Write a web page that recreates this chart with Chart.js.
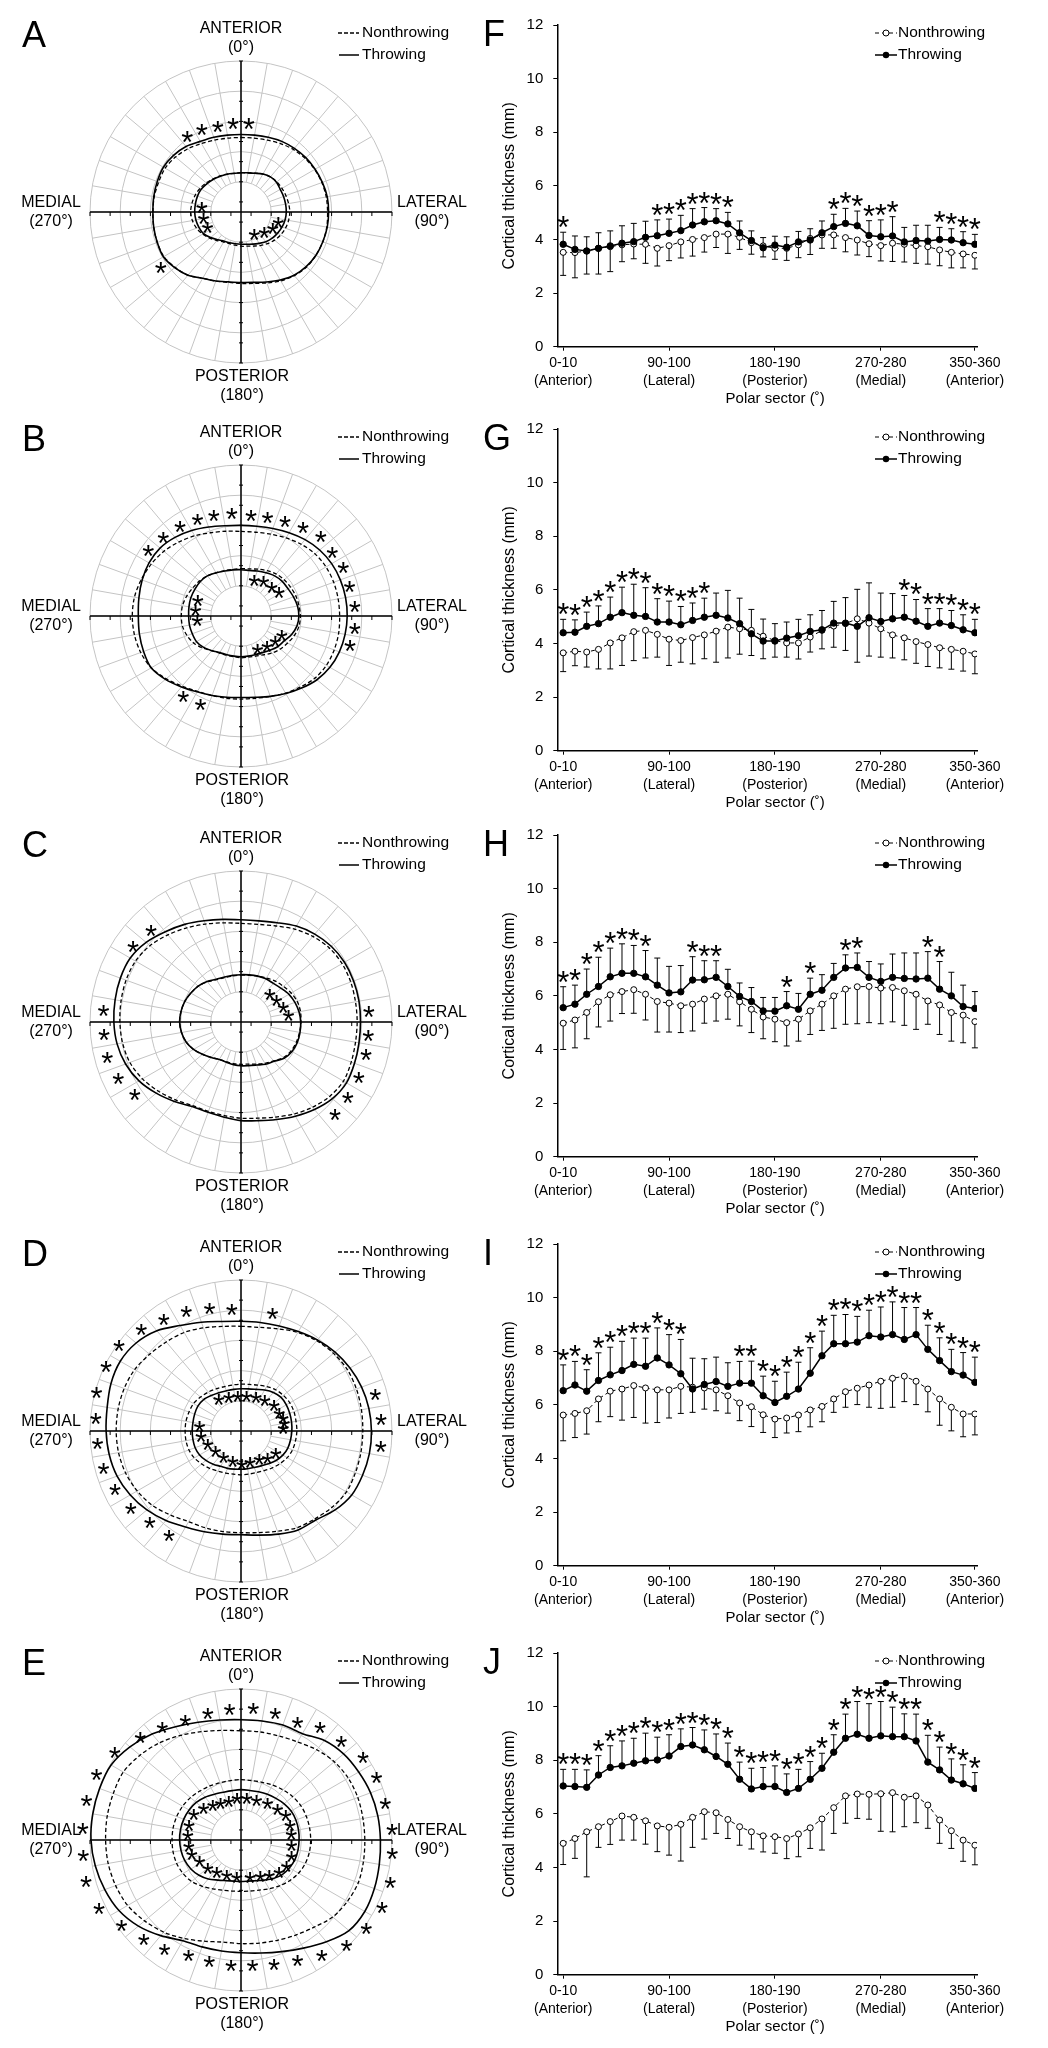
<!DOCTYPE html>
<html>
<head>
<meta charset="utf-8">
<script src="https://cdn.jsdelivr.net/npm/chart.js@4.4.1/dist/chart.umd.min.js"></script>
<style>
  html, body { margin: 0; padding: 0; background: #fff; }
  body { position: relative; width: 1048px; height: 2048px; overflow: hidden; }
  canvas { position: absolute; }
</style>
</head>
<body>
<script>
const FONT = '"Liberation Sans", Arial, sans-serif';
Chart.defaults.font.family = FONT;
Chart.defaults.color = '#000';

// 10-degree polar sectors, clockwise from anterior
const sectorLabels = ['0-10','10-20','20-30','30-40','40-50','50-60','60-70','70-80','80-90',
  '90-100','100-110','110-120','120-130','130-140','140-150','150-160','160-170','170-180',
  '180-190','190-200','200-210','210-220','220-230','230-240','240-250','250-260','260-270',
  '270-280','280-290','290-300','300-310','310-320','320-330','330-340','340-350','350-360'];
const tickIdx = [0, 9, 18, 27, 35];
const tickRegion = ['(Anterior)', '(Lateral)', '(Posterior)', '(Medial)', '(Anterior)'];

// ---- polar contours: radius (mm) at 0,10,...,350 deg ----
const aThrOut = [7.7,7.75,7.9,8.1,8.25,8.4,8.5,8.6,8.7,8.7,8.7,8.65,8.6,8.45,8.2,7.8,7.4,7.1,7.0,7.05,7.3,7.6,8.2,8.6,8.9,8.85,8.8,8.75,8.8,8.85,8.9,8.75,8.5,8.1,7.9,7.75];
const aNonOut = [7.4,7.45,7.6,7.85,8.1,8.3,8.45,8.55,8.6,8.6,8.65,8.65,8.6,8.5,8.25,7.9,7.5,7.2,7.1,7.1,7.3,7.6,8.2,8.55,8.85,8.85,8.8,8.75,8.75,8.7,8.7,8.5,8.2,7.85,7.6,7.45];
const aThrIn = [3.9,3.95,4.1,4.35,4.55,4.6,4.5,4.5,4.5,4.5,4.45,4.35,4.2,4.05,3.85,3.6,3.4,3.25,3.2,3.2,3.25,3.35,3.6,3.95,4.3,4.45,4.55,4.6,4.6,4.6,4.55,4.4,4.25,4.1,4.0,3.9];
const aNonIn = [3.9,3.95,4.1,4.35,4.55,4.65,4.7,4.75,4.8,4.85,4.8,4.7,4.55,4.35,4.1,3.85,3.6,3.45,3.4,3.35,3.35,3.45,3.7,4.05,4.4,4.7,4.9,5.0,4.95,4.85,4.7,4.5,4.3,4.15,4.0,3.9];

const bThrOut = [9.0,9.05,9.25,9.55,9.9,10.2,10.4,10.5,10.55,10.55,10.5,10.4,10.2,9.85,9.35,8.9,8.5,8.2,8.1,8.2,8.4,8.7,9.2,9.8,10.3,10.3,10.25,10.2,10.3,10.45,10.55,10.5,10.2,9.8,9.4,9.1];
const bNonOut = [8.4,8.45,8.65,8.95,9.3,9.6,9.75,9.8,9.8,9.8,9.85,9.85,9.8,9.6,9.2,8.85,8.5,8.3,8.25,8.3,8.4,8.65,9.1,9.7,10.3,10.6,10.75,10.8,10.75,10.55,10.3,10.0,9.6,9.2,8.8,8.55];
const bThrIn = [4.6,4.6,4.75,4.95,5.2,5.35,5.4,5.55,5.7,5.75,5.65,5.35,4.95,4.75,4.45,4.2,4.1,4.05,4.05,4.05,4.1,4.2,4.5,4.85,5.1,5.15,5.2,5.2,5.25,5.3,5.3,5.3,5.2,4.95,4.75,4.65];
const bNonIn = [4.7,4.75,4.95,5.2,5.45,5.6,5.7,5.8,5.85,5.9,5.85,5.65,5.35,5.1,4.8,4.45,4.25,4.15,4.15,4.1,4.15,4.25,4.5,4.95,5.4,5.7,5.9,5.93,5.9,5.75,5.55,5.4,5.2,4.95,4.8,4.7];

const cThrOut = [10.15,10.2,10.5,11.0,11.4,11.7,11.87,11.9,11.9,11.87,11.9,12.0,12.1,11.85,11.35,10.8,10.3,9.95,9.8,9.6,9.55,9.7,10.3,11.0,11.7,12.2,12.5,12.63,12.7,12.75,12.7,12.3,11.7,11.2,10.7,10.35];
const cNonOut = [9.8,9.85,10.15,10.65,11.1,11.45,11.6,11.6,11.55,11.54,11.55,11.65,11.75,11.5,11.05,10.55,10.05,9.7,9.56,9.45,9.45,9.6,10.1,10.7,11.3,11.75,11.95,12.03,12.1,12.15,12.1,11.8,11.3,10.8,10.35,10.0];
const cThrIn = [4.7,4.75,4.85,4.95,5.0,5.2,5.5,5.7,5.85,5.93,5.95,5.95,5.85,5.6,5.1,4.85,4.55,4.4,4.35,4.3,4.25,4.3,4.6,5.0,5.45,5.8,6.0,6.1,6.05,5.95,5.75,5.55,5.25,4.9,4.75,4.7];
const cNonIn = [4.65,4.7,4.85,5.05,5.3,5.5,5.75,5.95,6.0,5.95,5.9,5.85,5.75,5.5,5.05,4.75,4.45,4.25,4.2,4.2,4.2,4.3,4.6,5.0,5.45,5.8,6.0,6.1,6.05,5.95,5.75,5.55,5.2,4.85,4.7,4.65];

const dThrOut = [10.9,10.95,11.1,11.4,11.8,12.2,12.5,12.75,12.9,12.96,12.95,12.85,12.7,12.2,11.55,11.35,10.9,10.5,10.3,10.4,10.65,11.0,11.6,12.2,12.7,13.1,13.3,13.4,13.5,13.75,13.85,13.6,13.0,12.1,11.5,11.05];
const dNonOut = [10.4,10.45,10.8,11.3,11.7,12.0,12.2,12.2,12.15,12.1,12.1,12.1,12.1,11.8,11.4,11.1,10.6,10.25,10.1,10.15,10.25,10.4,10.9,11.5,11.9,12.2,12.35,12.4,12.4,12.35,12.2,11.85,11.55,11.3,10.9,10.55];
const dThrIn = [4.2,4.25,4.4,4.7,5.0,5.2,5.2,5.15,5.1,5.05,5.0,4.95,4.8,4.55,4.25,4.0,3.85,3.8,3.8,3.85,3.95,4.05,4.3,4.55,4.75,4.85,4.85,4.85,4.85,4.9,4.95,4.85,4.6,4.4,4.25,4.2];
const dNonIn = [4.65,4.7,4.85,5.1,5.35,5.5,5.6,5.6,5.55,5.55,5.5,5.45,5.3,5.05,4.8,4.55,4.4,4.35,4.35,4.35,4.45,4.6,4.85,5.1,5.35,5.5,5.55,5.55,5.55,5.5,5.45,5.25,5.05,4.85,4.7,4.65];

const eThrOut = [11.95,12.0,12.15,12.2,12.9,13.3,13.5,13.7,13.8,13.85,13.95,14.1,14.2,14.0,13.2,12.4,11.8,11.4,11.2,11.2,11.3,11.55,12.4,13.3,14.0,14.4,14.7,14.9,14.95,14.95,14.9,14.4,13.75,13.0,12.45,12.1];
const eNonOut = [10.85,10.9,11.0,11.25,11.7,12.1,12.3,12.35,12.3,12.3,12.35,12.4,12.2,11.9,11.3,10.9,10.6,10.4,10.3,10.3,10.7,11.3,11.95,12.5,13.0,13.25,13.4,13.45,13.5,13.5,13.5,13.1,12.6,12.0,11.45,11.05];
const eThrIn = [5.0,5.0,5.1,5.25,5.4,5.6,5.75,5.8,5.8,5.77,5.75,5.7,5.55,5.35,5.0,4.6,4.3,4.15,4.12,4.15,4.3,4.6,5.05,5.45,5.75,5.95,6.05,6.1,6.1,6.05,5.95,5.8,5.55,5.25,5.05,4.98];
const eNonIn = [6.0,6.0,6.1,6.3,6.5,6.7,6.85,6.9,6.92,6.92,6.9,6.8,6.6,6.3,5.95,5.6,5.3,5.15,5.1,5.15,5.3,5.6,6.0,6.4,6.65,6.8,6.85,6.85,6.85,6.8,6.7,6.55,6.35,6.2,6.05,6.0];

// significance asterisks on the polar plots: [angle deg, radius mm]
const aStars = [[325,9.3],[335,9.2],[345,8.9],[355,9.0],[5,9.0],[236,9.6],[278,3.93],[262,3.77],[247,3.6],[147.6,2.46],[129.6,3.0],[115.8,3.5],[103,3.8]];
const bStars = [[306,11.4],[316,11.1],[326,10.85],[336,10.6],[345,10.45],[355,10.4],[5.6,10.15],[14.8,10.3],[24.6,10.5],[34.5,10.9],[44.5,11.3],[54.4,11.15],[64,11.3],[74.3,11.2],[84.7,11.35],[95.3,11.35],[104.5,11.2],[216.3,9.7],[205,9.5],
  [19.7,3.9],[32.4,4.2],[45.3,4.3],[57.2,4.5],[152.5,3.57],[138.4,3.88],[125.3,4.17],[114.1,4.44],[291,4.6],[279,4.57],[265.7,4.36]];
const cStars = [[316,12.85],[305.6,13.2],[275.2,13.7],[265.6,13.65],[255.8,13.7],[246,13.35],[236.1,12.7],[84.8,12.75],[95.2,12.7],[104,12.8],[114.5,12.86],[124.6,12.9],[134.1,13.0],
  [44.7,4.08],[57.6,4.18],[69.3,4.48],[80.9,4.78]];
const dStars = [[285.5,14.9],[275.6,14.5],[265.5,14.3],[255.5,14.1],[245.6,13.75],[235.5,13.3],[225.3,12.75],[215.1,12.45],[295.9,14.9],[305.6,14.9],[316,14.25],[325.7,13.6],[335.7,13.2],[345.8,12.75],[355.7,12.26],[14.8,12.27],[74.4,13.86],[84.9,13.97],[95.7,13.95],
  [325.6,3.92],[340.8,3.7],[354.7,3.58],[8.9,3.6],[23.2,3.77],[36.3,4.0],[51.3,4.22],[63.2,4.25],[72.1,4.4],[77.8,4.39],[84.2,4.21],[278.2,4.16],[264.3,3.98],[250.7,3.49],[233.5,3.16],[215.6,3.0],[196,2.98],[178.8,3.2],[163.1,3.07],[146.2,3.25],[133.9,3.66],[120.6,4.02]];
const eStars = [[355,13.17],[5.3,13.24],[15,13.14],[25.3,13.12],[34.8,13.74],[45,14.08],[55.5,14.72],[64.8,14.87],[75.2,14.83],[85.4,15.05],[94.6,15.07],[105.3,15.38],[115.2,15.49],[124.9,15.16],[134.5,14.71],[144.8,13.91],[154.7,13.13],[164.9,12.64],[174.7,12.42],[184.6,12.34],[194.7,12.37],[204.6,12.51],[215.3,13.13],[224.8,13.71],[234.9,14.5],[244.6,15.62],[255.6,15.9],[264.8,15.73],[274.8,15.78],[285,15.88],[295,15.83],[305.1,15.31],[315.8,14.34],[325.4,13.75],[335.3,13.25],[345.4,13.12],
  [299.4,5.37],[311.5,4.97],[322.3,4.58],[331.7,4.3],[343.1,4.2],[354.7,4.3],[7.5,4.32],[20.6,4.4],[35.3,4.57],[48.3,4.85],[60,5.14],[72,5.13],[82.5,5.05],[94.5,5.03],[106.5,5.23],[118.7,5.15],[128.7,4.85],[140.5,4.4],[151.5,4.01],[166.2,3.73],[186.9,3.59],[202.7,3.68],[218.1,3.9],[231.3,4.22],[244.4,4.57],[255.6,5.04],[264.5,5.2],[276.4,5.31],[287,5.41]];

// ---- cortical thickness by sector (mm): means and SD ----
const fThr = [3.82,3.63,3.57,3.67,3.76,3.86,3.92,4.08,4.14,4.23,4.33,4.54,4.66,4.70,4.58,4.25,3.96,3.69,3.79,3.71,3.91,3.98,4.25,4.48,4.60,4.51,4.15,4.10,4.13,3.91,3.96,3.94,4.00,3.98,3.88,3.82];
const fThrSd = [0.45,0.50,0.53,0.58,0.56,0.65,0.68,0.60,0.59,0.53,0.57,0.61,0.53,0.45,0.43,0.44,0.36,0.38,0.33,0.39,0.39,0.42,0.44,0.46,0.56,0.55,0.55,0.63,0.72,0.54,0.57,0.59,0.45,0.42,0.41,0.37];
const fNon = [3.52,3.51,3.57,3.67,3.73,3.80,3.83,3.82,3.67,3.77,3.91,4.00,4.07,4.20,4.20,4.08,3.88,3.76,3.67,3.67,3.80,4.04,4.17,4.17,4.07,3.98,3.84,3.77,3.86,3.82,3.77,3.73,3.61,3.52,3.46,3.41];
const fNonSd = [0.86,0.94,0.86,0.96,0.93,0.63,0.55,0.71,0.66,0.56,0.60,0.62,0.54,0.50,0.72,0.45,0.43,0.41,0.41,0.45,0.48,0.60,0.50,0.50,0.53,0.56,0.48,0.57,0.68,0.66,0.66,0.65,0.59,0.58,0.52,0.51];
const fStars = [0,8,9,10,11,12,13,14,23,24,25,26,27,28,32,33,34,35];

const gThr = [4.40,4.42,4.64,4.74,4.98,5.15,5.05,5.01,4.80,4.80,4.70,4.86,4.98,5.05,4.95,4.74,4.36,4.09,4.09,4.20,4.29,4.45,4.51,4.76,4.76,4.64,4.96,4.82,4.92,4.98,4.83,4.64,4.76,4.67,4.51,4.40];
const gThrSd = [0.50,0.46,0.53,0.66,0.75,0.95,1.16,1.07,0.87,0.78,0.68,0.65,0.71,0.83,1.03,0.95,0.91,0.82,0.65,0.60,0.61,0.62,0.72,0.81,0.95,1.38,1.30,1.06,0.94,0.81,0.81,0.66,0.54,0.56,0.56,0.50];
const gNon = [3.65,3.71,3.68,3.78,4.02,4.21,4.44,4.49,4.34,4.16,4.11,4.22,4.32,4.46,4.61,4.55,4.49,4.27,4.11,4.02,4.02,4.24,4.49,4.65,4.74,4.92,4.76,4.55,4.32,4.21,4.07,3.96,3.84,3.78,3.71,3.61];
const gNonSd = [0.70,0.54,0.56,0.73,0.97,1.03,1.08,1.03,0.85,0.98,0.81,0.98,0.89,1.16,1.15,0.95,0.94,0.84,0.62,0.53,0.60,0.56,0.69,0.79,1.00,1.62,1.23,1.06,0.86,0.82,0.81,0.82,0.75,0.74,0.74,0.74];
const gStars = [0,1,2,3,4,5,6,7,8,9,10,11,12,29,30,31,32,33,34,35];

const hThr = [5.56,5.69,6.06,6.35,6.71,6.84,6.84,6.71,6.40,6.11,6.15,6.59,6.60,6.69,6.35,5.98,5.79,5.44,5.43,5.63,5.50,6.06,6.21,6.69,7.04,7.06,6.69,6.54,6.69,6.65,6.63,6.66,6.25,6.00,5.60,5.53];
const hThrSd = [0.78,0.71,0.94,1.09,1.07,1.10,1.04,0.98,1.01,0.99,0.98,0.87,0.71,0.62,0.64,0.50,0.52,0.50,0.51,0.53,0.59,0.60,0.58,0.52,0.49,0.54,0.59,0.65,0.87,0.95,0.97,0.99,1.03,0.88,0.80,0.63];
const hNon = [4.98,5.10,5.38,5.78,6.04,6.16,6.23,6.06,5.79,5.73,5.63,5.69,5.88,6.00,6.06,5.78,5.50,5.21,5.13,5.00,5.13,5.44,5.69,6.00,6.25,6.34,6.35,6.29,6.31,6.19,6.06,5.81,5.66,5.38,5.28,5.04];
const hNonSd = [0.98,1.04,0.98,0.94,0.98,0.82,0.88,0.96,1.14,1.08,1.00,1.00,0.90,0.94,0.93,0.90,0.87,0.81,0.84,0.87,0.82,0.88,0.98,1.21,1.31,1.38,1.35,1.33,1.28,1.29,1.31,0.87,1.10,1.07,1.03,0.98];
const hStars = [0,1,2,3,4,5,6,7,11,12,13,19,21,24,25,31,32];

const iThr = [6.53,6.74,6.51,6.91,7.12,7.28,7.51,7.44,7.75,7.49,7.16,6.59,6.76,6.87,6.69,6.81,6.81,6.34,6.09,6.32,6.59,7.18,7.83,8.28,8.28,8.34,8.58,8.53,8.62,8.44,8.62,8.07,7.65,7.24,7.11,6.84];
const iThrSd = [0.96,0.88,0.80,1.03,1.03,1.09,0.98,1.05,1.12,1.13,1.28,1.15,0.96,0.91,0.88,0.81,0.82,0.73,0.79,0.90,1.00,0.95,0.92,1.06,1.09,0.96,0.95,1.12,1.22,1.19,1.01,0.90,0.85,0.83,0.84,0.94];
const iNon = [5.62,5.68,5.78,6.22,6.51,6.59,6.72,6.63,6.56,6.56,6.69,6.66,6.63,6.56,6.34,6.07,5.93,5.63,5.47,5.51,5.62,5.81,5.94,6.22,6.49,6.62,6.74,6.88,6.99,7.07,6.88,6.59,6.22,5.91,5.66,5.66];
const iNonSd = [0.96,0.90,0.87,0.85,0.95,1.16,1.19,1.31,1.22,1.05,1.01,0.94,0.79,0.78,0.65,0.66,0.74,0.66,0.69,0.56,0.62,0.63,0.57,0.50,0.58,0.61,0.83,1.01,1.08,0.95,0.87,0.85,0.98,0.88,0.85,0.78];
const iStars = [0,1,2,3,4,5,6,7,8,9,10,15,16,17,18,19,20,21,22,23,24,25,26,27,28,29,30,31,32,33,34,35];

const jThr = [7.04,7.02,6.99,7.45,7.73,7.79,7.89,7.98,8.01,8.16,8.51,8.57,8.39,8.14,7.85,7.29,6.93,7.02,7.02,6.80,6.95,7.29,7.70,8.30,8.82,8.97,8.82,8.91,8.88,8.88,8.72,7.93,7.64,7.26,7.12,6.95];
const jThrSd = [0.62,0.64,0.65,0.72,0.81,0.93,0.93,1.03,0.85,0.79,0.66,0.65,0.74,0.84,0.79,0.64,0.77,0.71,0.77,0.69,0.71,0.66,0.56,0.65,0.90,1.22,1.29,1.28,1.10,0.85,1.00,1.00,0.85,0.79,0.71,0.59];
const jNon = [4.90,5.08,5.33,5.52,5.71,5.92,5.87,5.74,5.55,5.50,5.61,5.87,6.08,6.04,5.79,5.52,5.33,5.18,5.15,5.08,5.25,5.48,5.81,6.23,6.67,6.74,6.73,6.75,6.79,6.62,6.67,6.33,5.77,5.37,5.02,4.83];
const jNonSd = [0.79,0.74,1.68,0.77,0.85,0.90,0.85,0.87,0.96,1.04,1.37,1.12,1.02,0.77,0.71,0.69,0.64,0.60,0.62,0.75,0.85,0.77,1.16,0.96,1.02,0.91,0.93,1.40,1.46,1.10,1.00,0.87,0.87,0.66,0.79,0.73];
const jStars = [0,1,2,3,4,5,6,7,8,9,10,11,12,13,14,15,16,17,18,19,20,21,22,23,24,25,26,27,28,29,30,31,32,33,34,35];

const rows = [
  { top: 0,    L: 'A', R: 'F', thrOut: aThrOut, nonOut: aNonOut, thrIn: aThrIn, nonIn: aNonIn, pStars: aStars, thr: fThr, thrSd: fThrSd, non: fNon, nonSd: fNonSd, stars: fStars },
  { top: 404,  L: 'B', R: 'G', thrOut: bThrOut, nonOut: bNonOut, thrIn: bThrIn, nonIn: bNonIn, pStars: bStars, thr: gThr, thrSd: gThrSd, non: gNon, nonSd: gNonSd, stars: gStars },
  { top: 810,  L: 'C', R: 'H', thrOut: cThrOut, nonOut: cNonOut, thrIn: cThrIn, nonIn: cNonIn, pStars: cStars, thr: hThr, thrSd: hThrSd, non: hNon, nonSd: hNonSd, stars: hStars },
  { top: 1219, L: 'D', R: 'I', thrOut: dThrOut, nonOut: dNonOut, thrIn: dThrIn, nonIn: dNonIn, pStars: dStars, thr: iThr, thrSd: iThrSd, non: iNon, nonSd: iNonSd, stars: iStars },
  { top: 1628, L: 'E', R: 'J', thrOut: eThrOut, nonOut: eNonOut, thrIn: eThrIn, nonIn: eNonIn, pStars: eStars, thr: jThr, thrSd: jThrSd, non: jNon, nonSd: jNonSd, stars: jStars }
];

const STAR_SIZE = 31;
function star(ctx, x, y) {
  // centre of the glyph sits about 0.58em above the baseline
  ctx.font = STAR_SIZE + 'px ' + FONT;
  ctx.textAlign = 'center';
  ctx.textBaseline = 'alphabetic';
  ctx.fillText('*', x, y + STAR_SIZE * 0.58);
}

const polarDecor = {
  id: 'polarDecor',
  beforeDatasetsDraw(chart, args, o) {
    const s = chart.scales.r, ctx = chart.ctx;
    const r0 = s.getDistanceFromCenterForValue(3), r1 = s.getDistanceFromCenterForValue(15);
    ctx.save();
    ctx.strokeStyle = '#c4c4c4';
    ctx.lineWidth = 1;
    for (let k = 0; k < 36; k++) {
      const p0 = s.getPointPosition(k, r0), p1 = s.getPointPosition(k, r1);
      ctx.beginPath(); ctx.moveTo(p0.x, p0.y); ctx.lineTo(p1.x, p1.y); ctx.stroke();
    }
    ctx.strokeStyle = '#000';
    ctx.lineWidth = 1.5;
    [0, 9].forEach(k => {
      const a = s.getPointPosition(k, r1), b = s.getPointPosition(k + 18, r1);
      ctx.beginPath(); ctx.moveTo(a.x, a.y); ctx.lineTo(b.x, b.y); ctx.stroke();
    });
    ctx.lineWidth = 1;
    const cx = s.xCenter, cy = s.yCenter;
    for (let v = 1; v <= 15; v += 2) {
      const d = s.getDistanceFromCenterForValue(v);
      [-d, d].forEach(off => {
        ctx.beginPath(); ctx.moveTo(cx + off, cy); ctx.lineTo(cx + off, cy + 4); ctx.stroke();
        ctx.beginPath(); ctx.moveTo(cx - 2, cy + off); ctx.lineTo(cx + 2, cy + off); ctx.stroke();
      });
    }
    ctx.restore();
  },
  afterDatasetsDraw(chart, args, o) {
    const s = chart.scales.r, ctx = chart.ctx;
    const cx = s.xCenter, cy = s.yCenter;
    ctx.save();
    ctx.fillStyle = '#000';
    o.stars.forEach(([ang, r]) => {
      const p = s.getPointPosition(ang / 10, s.getDistanceFromCenterForValue(r));
      star(ctx, p.x, p.y);
    });
    ctx.font = '16px ' + FONT;
    ctx.textAlign = 'center';
    ctx.textBaseline = 'middle';
    ctx.fillText('ANTERIOR', cx, cy - 183);
    ctx.fillText('(0°)', cx, cy - 164);
    ctx.fillText('MEDIAL', 51, cy - 9);
    ctx.fillText('(270°)', 51, cy + 10);
    ctx.fillText('LATERAL', 432, cy - 9);
    ctx.fillText('(90°)', 432, cy + 10);
    ctx.fillText('POSTERIOR', cx + 1, cy + 165);
    ctx.fillText('(180°)', cx + 1, cy + 184);
    // legend
    ctx.font = '15.5px ' + FONT;
    ctx.textAlign = 'left';
    ctx.fillText('Nonthrowing', 362, 33);
    ctx.fillText('Throwing', 362, 55);
    ctx.strokeStyle = '#000';
    ctx.lineWidth = 1.3;
    ctx.setLineDash([4, 2]);
    ctx.beginPath(); ctx.moveTo(338, 33); ctx.lineTo(359, 33); ctx.stroke();
    ctx.setLineDash([]);
    ctx.lineWidth = 1.5;
    ctx.beginPath(); ctx.moveTo(339, 55); ctx.lineTo(359, 55); ctx.stroke();
    // panel letters
    ctx.font = '36px ' + FONT;
    ctx.textBaseline = 'alphabetic';
    ctx.fillText(o.left, 22, 47);
    ctx.fillText(o.right, 483, 46);
    ctx.restore();
  }
};

const lineDecor = {
  id: 'lineDecor',
  beforeDatasetsDraw(chart, args, o) {
    const xs = chart.scales.x, ys = chart.scales.y, ctx = chart.ctx;
    ctx.save();
    ctx.strokeStyle = '#000';
    ctx.lineWidth = 1;
    const bar = (i, from, to) => {
      const x = xs.getPixelForValue(i), y0 = ys.getPixelForValue(from), y1 = ys.getPixelForValue(to);
      ctx.beginPath(); ctx.moveTo(x, y0); ctx.lineTo(x, y1);
      ctx.moveTo(x - 3, y1); ctx.lineTo(x + 3, y1); ctx.stroke();
    };
    o.thr.forEach((m, i) => bar(i, m, m + o.thrSd[i]));
    o.non.forEach((m, i) => bar(i, m, m - o.nonSd[i]));
    ctx.restore();
  },
  afterDatasetsDraw(chart, args, o) {
    const xs = chart.scales.x, ys = chart.scales.y, ctx = chart.ctx, ca = chart.chartArea;
    ctx.save();
    ctx.fillStyle = '#000';
    o.stars.forEach(i => {
      star(ctx, xs.getPixelForValue(i), ys.getPixelForValue(o.thr[i] + o.thrSd[i]) - 12);
    });
    // legend
    ctx.strokeStyle = '#000';
    ctx.lineWidth = 1;
    ctx.setLineDash([4, 3]);
    ctx.beginPath(); ctx.moveTo(380, 33); ctx.lineTo(402, 33); ctx.stroke();
    ctx.setLineDash([]);
    ctx.fillStyle = '#fff';
    ctx.beginPath(); ctx.arc(391, 33, 3, 0, Math.PI * 2); ctx.fill(); ctx.stroke();
    ctx.lineWidth = 1.5;
    ctx.beginPath(); ctx.moveTo(380, 55); ctx.lineTo(402, 55); ctx.stroke();
    ctx.fillStyle = '#000';
    ctx.beginPath(); ctx.arc(391, 55, 3.2, 0, Math.PI * 2); ctx.fill();
    ctx.font = '15.5px ' + FONT;
    ctx.textAlign = 'left';
    ctx.textBaseline = 'middle';
    ctx.fillText('Nonthrowing', 403, 33);
    ctx.fillText('Throwing', 403, 55);
    // axis titles
    ctx.textAlign = 'center';
    ctx.font = '15px ' + FONT;
    ctx.fillText('Polar sector (˚)', (ca.left + ca.right) / 2 + 8, ca.bottom + 52);
    ctx.translate(15, (ca.top + ca.bottom) / 2);
    ctx.rotate(-Math.PI / 2);
    ctx.font = '16px ' + FONT;
    ctx.fillText('Cortical thickness (mm)', 0, 0);
    ctx.restore();
  }
};

function polarConfig(row) {
  const base = { borderColor: '#000', backgroundColor: 'transparent', fill: false, pointRadius: 0, tension: 0.3 };
  return {
    type: 'radar',
    data: {
      labels: sectorLabels,
      datasets: [
        Object.assign({ label: 'Nonthrowing periosteal', data: row.nonOut, borderDash: [4, 2.5], borderWidth: 1.3 }, base),
        Object.assign({ label: 'Nonthrowing endosteal', data: row.nonIn, borderDash: [4, 2.5], borderWidth: 1.3 }, base),
        Object.assign({ label: 'Throwing periosteal', data: row.thrOut, borderWidth: 1.6 }, base),
        Object.assign({ label: 'Throwing endosteal', data: row.thrIn, borderWidth: 1.6 }, base)
      ]
    },
    options: {
      responsive: false,
      animation: false,
      events: [],
      layout: { padding: { left: 90, top: 60.6, right: 130.6, bottom: 46 } },
      plugins: {
        legend: { display: false },
        tooltip: { enabled: false },
        polarDecor: { stars: row.pStars, left: row.L, right: row.R }
      },
      scales: {
        r: {
          min: 0,
          max: 15,
          ticks: { display: false, stepSize: 3 },
          grid: { color: '#c4c4c4', lineWidth: 1, circular: true },
          angleLines: { display: false },
          pointLabels: { display: false }
        }
      }
    },
    plugins: [polarDecor]
  };
}

function lineConfig(row) {
  const pts = arr => arr.map((v, i) => ({ x: i, y: v }));
  return {
    type: 'line',
    data: {
      datasets: [
        { label: 'Throwing', data: pts(row.thr), borderColor: '#000', borderWidth: 1.5,
          pointRadius: 3.2, pointBackgroundColor: '#000', pointBorderColor: '#000', pointBorderWidth: 1, tension: 0 },
        { label: 'Nonthrowing', data: pts(row.non), borderColor: '#000', borderWidth: 1, borderDash: [4, 3],
          pointRadius: 3, pointBackgroundColor: '#fff', pointBorderColor: '#000', pointBorderWidth: 1, tension: 0 }
      ]
    },
    options: {
      responsive: false,
      animation: false,
      events: [],
      layout: { padding: { left: 0, top: 25, right: 71, bottom: 0 } },
      plugins: {
        legend: { display: false },
        tooltip: { enabled: false },
        lineDecor: { thr: row.thr, thrSd: row.thrSd, non: row.non, nonSd: row.nonSd, stars: row.stars }
      },
      scales: {
        x: {
          type: 'linear',
          min: -0.5,
          max: 35.18,
          afterBuildTicks: axis => { axis.ticks = tickIdx.map(v => ({ value: v })); },
          afterFit: axis => { axis.height = 63.3; },
          ticks: {
            autoSkip: false,
            maxRotation: 0,
            padding: 3,
            font: { size: 14, lineHeight: 1.3 },
            color: '#000',
            callback: v => {
              const k = tickIdx.indexOf(v);
              return k < 0 ? null : [sectorLabels[v], tickRegion[k]];
            }
          },
          grid: { display: true, drawOnChartArea: false, drawTicks: true, tickLength: 4, color: '#000' },
          border: { display: true, color: '#000', width: 1.5 }
        },
        y: {
          min: 0,
          max: 12,
          afterFit: axis => { axis.width = 62.3; },
          ticks: { stepSize: 2, padding: 10, font: { size: 15 }, color: '#000' },
          grid: { display: true, drawOnChartArea: false, drawTicks: true, tickLength: 4, color: '#000' },
          border: { display: true, color: '#000', width: 1.5 }
        }
      }
    },
    plugins: [lineDecor]
  };
}

rows.forEach(row => {
  const pc = document.createElement('canvas');
  pc.width = 524; pc.height = 410;
  pc.style.left = '0px'; pc.style.top = row.top + 'px';
  document.body.appendChild(pc);
  new Chart(pc, polarConfig(row));

  const lc = document.createElement('canvas');
  lc.width = 553; lc.height = 410;
  lc.style.left = '495px'; lc.style.top = row.top + 'px';
  document.body.appendChild(lc);
  new Chart(lc, lineConfig(row));
});
</script>
</body>
</html>
